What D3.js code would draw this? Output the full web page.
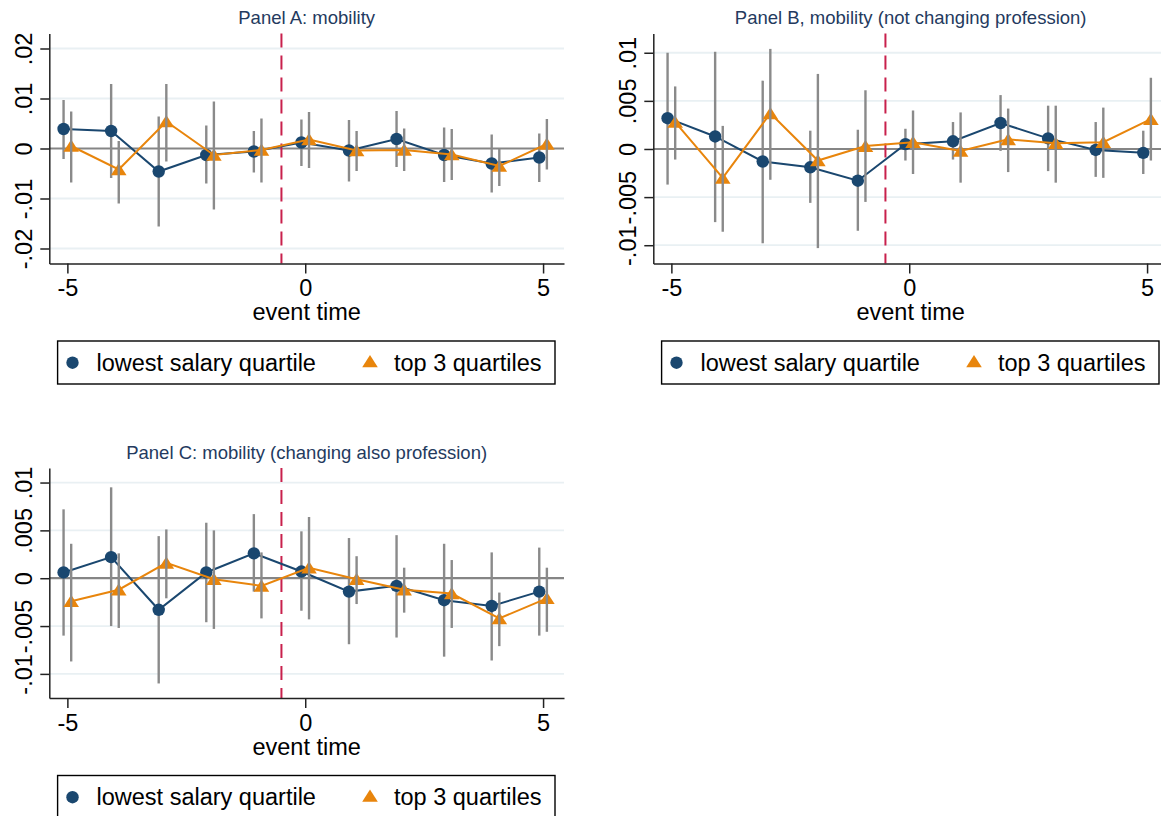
<!DOCTYPE html>
<html><head><meta charset="utf-8">
<script src="https://cdn.jsdelivr.net/npm/d3@7"></script>
<style>
body{margin:0;background:#fff}
text{font-family:"Liberation Sans",Arial,Helvetica,sans-serif}
</style>
</head><body>
<svg id="chart" width="1161" height="816"></svg>
<script>
// ---------------- data ----------------
const eventTime = [-5,-4,-3,-2,-1,0,1,2,3,4,5];
const xTickValues = [-5,0,5];
const xTickLabels = ["-5","0","5"];
const xTitle = "event time";
const seriesNames = ["lowest salary quartile","top 3 quartiles"];
const eventLine = -0.5;

const panelTitles = [
  "Panel A: mobility",
  "Panel B, mobility (not changing profession)",
  "Panel C: mobility (changing also profession)"
];

const yTicksA = [0.02,0.01,0,-0.01,-0.02];
const yTickLabelsA = [".02",".01","0","-.01","-.02"];
const yTicksBC = [0.01,0.005,0,-0.005,-0.01];
const yTickLabelsBC = [".01",".005","0","-.005","-.01"];

// Panel A
const aLow   = [.0039,.0035,-.0046,-.0013,-.0006,.0012,-.0004,.0019,-.0013,-.0030,-.0018];
const aLowLo = [-.0021,-.0059,-.0156,-.0070,-.0048,-.0035,-.0066,-.0037,-.0067,-.0088,-.0067];
const aLowHi = [.0097,.0129,.0064,.0046,.0035,.0058,.0057,.0075,.0042,.0028,.0030];
const aTop   = [.0005,-.0042,.0054,-.0013,-.0003,.0018,-.0004,-.0003,-.0012,-.0035,.0009];
const aTopLo = [-.0068,-.0110,-.0026,-.0122,-.0068,-.0039,-.0045,-.0045,-.0063,-.0075,-.0042];
const aTopHi = [.0074,.0015,.0129,.0094,.0060,.0073,.0035,.0040,.0039,.0000,.0059];

// Panel B
const bLow   = [.0032,.0013,-.0013,-.0019,-.0033,.0005,.0008,.0027,.0011,-.0001,-.0004];
const bLowLo = [-.0037,-.0076,-.0098,-.0056,-.0085,-.0012,-.0011,-.0002,-.0023,-.0029,-.0026];
const bLowHi = [.0100,.0101,.0071,.0019,.0020,.0021,.0028,.0056,.0045,.0028,.0019];
const bTop   = [.0028,-.0030,.0037,-.0012,.0003,.0007,-.0002,.0010,.0006,.0007,.0031];
const bTopLo = [-.0011,-.0086,-.0032,-.0103,-.0055,-.0026,-.0035,-.0024,-.0035,-.0030,-.0012];
const bTopHi = [.0065,.0024,.0104,.0078,.0061,.0040,.0038,.0042,.0045,.0043,.0074];

// Panel C
const cLow   = [.0006,.0022,-.0033,.0006,.0026,.0007,-.0014,-.0008,-.0023,-.0029,-.0014];
const cLowLo = [-.0060,-.0050,-.0110,-.0046,-.0014,-.0034,-.0069,-.0062,-.0082,-.0086,-.0060];
const cLowHi = [.0072,.0095,.0044,.0058,.0067,.0049,.0042,.0045,.0036,.0027,.0032];
const cTop   = [-.0024,-.0012,.0016,-.0001,-.0008,.0011,-.0001,-.0012,-.0016,-.0042,-.0021];
const cTopLo = [-.0087,-.0052,-.0021,-.0053,-.0042,-.0043,-.0027,-.0036,-.0052,-.0071,-.0056];
const cTopHi = [.0036,.0026,.0051,.0050,.0027,.0064,.0023,.0011,.0019,-.0015,.0011];

// ---------------- style ----------------
const COL_LOW = "#1a476f";
const COL_TOP = "#e8850c";
const COL_CI = "#8a8a8a";
const COL_ZERO = "#858585";
const COL_GRID = "#e9f0f3";
const COL_EVENT = "#c8204c";
const COL_TITLE = "#243a5e";
const COL_AXIS = "#222222";
const FS = 23.5;

const svg = d3.select("#chart");

function triPath(cx, cy){
  return `M${cx},${cy-6.4}L${cx+7.8},${cy+5.8}L${cx-7.8},${cy+5.8}Z`;
}

function drawPanel(p){
  const g = svg.append("g").attr("transform", `translate(${p.dx},${p.dy})`);
  const left = 49.3, right = 564, top = 33.5, bottom = 263.5;
  const x = d3.scaleLinear().domain([-5.38, 5.44]).range([left, right]);
  const y = d3.scaleLinear().domain(p.yDomain).range([bottom, top]);
  const off = 0.08;

  // title
  g.append("text").attr("x", (left+right)/2).attr("y", 24)
    .attr("text-anchor","middle").attr("font-size",18.5).attr("fill",COL_TITLE)
    .text(p.title);

  // gridlines
  g.selectAll("line.grid").data(p.yTicks.filter(v => v !== 0)).join("line")
    .attr("class","grid")
    .attr("x1", left).attr("x2", right)
    .attr("y1", d => y(d)).attr("y2", d => y(d))
    .attr("stroke", COL_GRID).attr("stroke-width", 1.8);

  // zero line
  g.append("line").attr("x1", left).attr("x2", right)
    .attr("y1", y(0)).attr("y2", y(0))
    .attr("stroke", COL_ZERO).attr("stroke-width", 2.2);

  // event line
  g.append("line").attr("x1", x(eventLine)).attr("x2", x(eventLine))
    .attr("y1", top).attr("y2", bottom)
    .attr("stroke", COL_EVENT).attr("stroke-width", 2)
    .attr("stroke-dasharray", "14,8");

  const low = eventTime.map((t,i) => ({t: t - off, v: p.low[i], lo: p.lowLo[i], hi: p.lowHi[i]}));
  const topS = eventTime.map((t,i) => ({t: t + off, v: p.top[i], lo: p.topLo[i], hi: p.topHi[i]}));

  const line = d3.line().x(d => x(d.t)).y(d => y(d.v));

  // low CI
  g.selectAll("line.ciLow").data(low).join("line").attr("class","ciLow")
    .attr("x1", d => x(d.t)).attr("x2", d => x(d.t))
    .attr("y1", d => y(d.lo)).attr("y2", d => y(d.hi))
    .attr("stroke", COL_CI).attr("stroke-width", 2.4);
  // low line + markers
  g.append("path").datum(low).attr("d", line).attr("fill","none")
    .attr("stroke", COL_LOW).attr("stroke-width", 2);
  g.selectAll("circle.mLow").data(low).join("circle").attr("class","mLow")
    .attr("cx", d => x(d.t)).attr("cy", d => y(d.v)).attr("r", 6.2)
    .attr("fill", COL_LOW);

  // top line + markers
  g.append("path").datum(topS).attr("d", line).attr("fill","none")
    .attr("stroke", COL_TOP).attr("stroke-width", 2);
  g.selectAll("path.mTop").data(topS).join("path").attr("class","mTop")
    .attr("d", d => triPath(x(d.t), y(d.v)))
    .attr("fill", COL_TOP);
  // top CI
  g.selectAll("line.ciTop").data(topS).join("line").attr("class","ciTop")
    .attr("x1", d => x(d.t)).attr("x2", d => x(d.t))
    .attr("y1", d => y(d.lo)).attr("y2", d => y(d.hi))
    .attr("stroke", COL_CI).attr("stroke-width", 2.4);

  // y axis
  const yAxis = d3.axisLeft(y).tickValues(p.yTicks)
    .tickFormat((d,i) => p.yLabels[i]).tickSize(9).tickSizeOuter(0);
  const ya = g.append("g").attr("transform", `translate(${left},0)`).call(yAxis);
  ya.select(".domain").attr("stroke", COL_AXIS).attr("stroke-width", 1.5);
  ya.selectAll(".tick line").attr("stroke", COL_AXIS).attr("stroke-width", 1.5);
  ya.selectAll(".tick text")
    .attr("x", null).attr("dy", null).attr("y", null)
    .attr("transform", "translate(-17.5,0) rotate(-90)")
    .attr("text-anchor", "middle")
    .attr("font-size", FS).attr("fill", "#000")
    .attr("font-family", '"Liberation Sans",Arial,sans-serif');

  // x axis
  const xAxis = d3.axisBottom(x).tickValues(xTickValues)
    .tickFormat((d,i) => xTickLabels[i]).tickSize(10).tickSizeOuter(0).tickPadding(6);
  const xa = g.append("g").attr("transform", `translate(0,${bottom})`).call(xAxis);
  xa.select(".domain").attr("stroke", COL_AXIS).attr("stroke-width", 1.5);
  xa.selectAll(".tick line").attr("stroke", COL_AXIS).attr("stroke-width", 1.5);
  xa.selectAll(".tick text").attr("font-size", FS).attr("fill", "#000")
    .attr("font-family", '"Liberation Sans",Arial,sans-serif');

  // x title
  g.append("text").attr("x", (left+right)/2).attr("y", 320)
    .attr("text-anchor","middle").attr("font-size", FS).attr("fill","#000")
    .text(xTitle);

  // legend
  const lg = g.append("g");
  lg.append("rect").attr("x", 57.6).attr("y", 341).attr("width", 497.4).attr("height", 43)
    .attr("fill", "#fff").attr("stroke", "#000").attr("stroke-width", 1.4);
  lg.append("circle").attr("cx", 72.5).attr("cy", 362.7).attr("r", 6.2).attr("fill", COL_LOW);
  lg.append("text").attr("x", 96.5).attr("y", 370.5).attr("font-size", FS).attr("fill","#000")
    .text(seriesNames[0]);
  lg.append("path").attr("d", triPath(370, 361.5)).attr("fill", COL_TOP);
  lg.append("text").attr("x", 394).attr("y", 370.5).attr("font-size", FS).attr("fill","#000")
    .text(seriesNames[1]);
}

drawPanel({dx:0, dy:0, title: panelTitles[0], yDomain:[-0.023, 0.023],
  yTicks: yTicksA, yLabels: yTickLabelsA,
  low:aLow, lowLo:aLowLo, lowHi:aLowHi, top:aTop, topLo:aTopLo, topHi:aTopHi});
drawPanel({dx:604, dy:0, title: panelTitles[1], yDomain:[-0.0119, 0.0120],
  yTicks: yTicksBC, yLabels: yTickLabelsBC,
  low:bLow, lowLo:bLowLo, lowHi:bLowHi, top:bTop, topLo:bTopLo, topHi:bTopHi});
drawPanel({dx:0, dy:434.5, title: panelTitles[2], yDomain:[-0.01252, 0.01152],
  yTicks: yTicksBC, yLabels: yTickLabelsBC,
  low:cLow, lowLo:cLowLo, lowHi:cLowHi, top:cTop, topLo:cTopLo, topHi:cTopHi});
</script>
</body></html>
